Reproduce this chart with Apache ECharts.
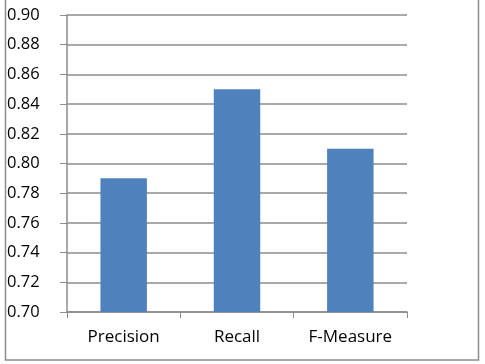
<!DOCTYPE html>
<html>
<head>
<meta charset="utf-8">
<script src="https://cdn.jsdelivr.net/npm/echarts@6/dist/echarts.min.js"></script>
<style>
  html, body { margin: 0; padding: 0; background: #fff; }
  #chart { width: 485px; height: 364px; }
</style>
</head>
<body>
<div id="chart"></div>
<script>
const categories = ['Precision', 'Recall', 'F-Measure'];
const scores = [0.79, 0.85, 0.81];

let chartDom = document.getElementById('chart');
let myChart = echarts.init(chartDom);
let option;

option = {
  animation: false,
  textStyle: { fontFamily: 'Open Sans' },
  grid: { left: 67, right: 78, top: 15, bottom: 52 },
  graphic: [{
    type: 'rect',
    shape: { x: 5.5, y: -2, width: 473, height: 362 },
    style: { fill: 'none', stroke: '#8c8c8c', lineWidth: 1.5 },
    silent: true
  }],
  xAxis: {
    type: 'category',
    data: categories,
    axisLine: { lineStyle: { color: '#8c8c8c', width: 1.5 } },
    axisTick: { show: true, length: 6, lineStyle: { color: '#8c8c8c' } },
    axisLabel: { color: '#000', fontSize: 17, margin: 17 }
  },
  yAxis: {
    type: 'value',
    min: 0.70,
    max: 0.90,
    interval: 0.02,
    axisLine: { show: true, lineStyle: { color: '#8c8c8c', width: 1.5 } },
    axisTick: { show: true, length: 7, lineStyle: { color: '#8c8c8c' } },
    splitLine: { lineStyle: { color: '#8c8c8c', width: 1.5 } },
    axisLabel: {
      color: '#000',
      fontSize: 16.5,
      align: 'left',
      margin: 60,
      formatter: v => v.toFixed(2)
    }
  },
  series: [{
    type: 'bar',
    data: scores,
    barWidth: '41%',
    itemStyle: { color: '#4f81bd' }
  }]
};

option && myChart.setOption(option);
</script>
</body>
</html>
